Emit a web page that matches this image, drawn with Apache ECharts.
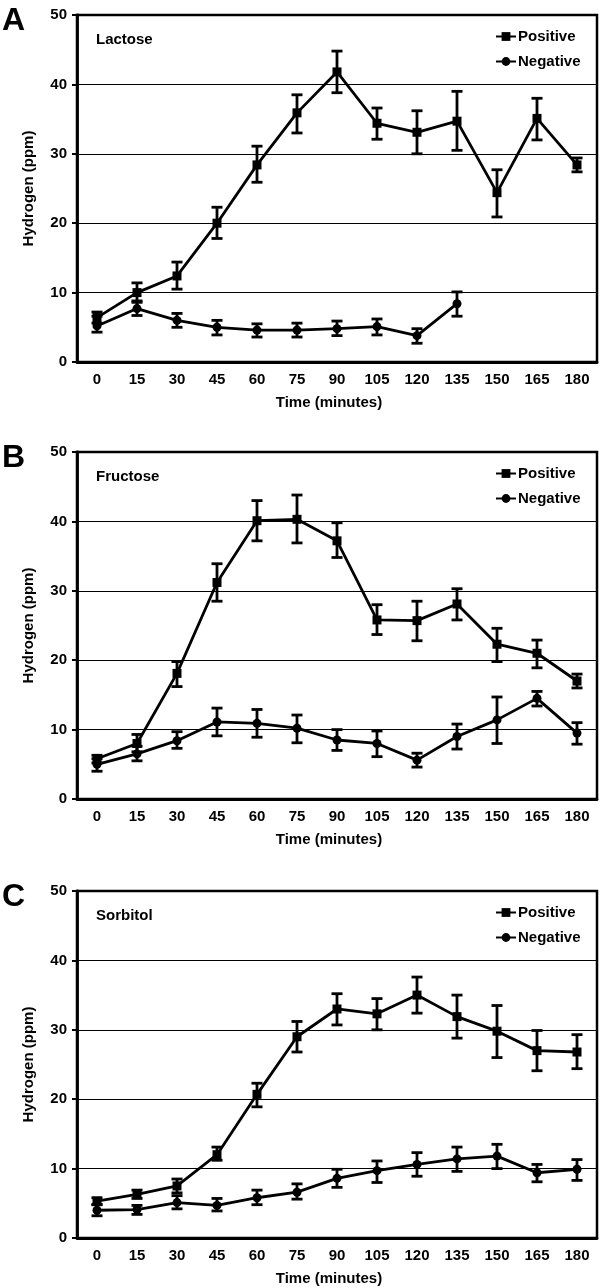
<!DOCTYPE html>
<html>
<head>
<meta charset="utf-8">
<script src="https://cdn.jsdelivr.net/npm/echarts@6/dist/echarts.min.js"></script>
<style>
html,body{margin:0;padding:0;background:#fff;}
#chart{width:600px;height:1288px;}
</style>
</head>
<body>
<div id="chart"></div>
<script>
// ---- data ----
const times = ['0','15','30','45','60','75','90','105','120','135','150','165','180'];
const yTicks = [0,10,20,30,40,50];
const panelLetters = ['A','B','C'];
const sugars = ['Lactose','Fructose','Sorbitol'];
const seriesNames = ['Positive','Negative'];

const lactosePos   = [6.4, 10.0, 12.4, 20.0, 28.4, 35.9, 41.8, 34.4, 33.1, 34.7, 24.4, 35.1, 28.4];
const lactosePosHi = [7.2, 11.4, 14.4, 22.3, 31.1, 38.5, 44.8, 36.6, 36.2, 39.0, 27.7, 38.0, 29.4];
const lactosePosLo = [5.6,  8.6, 10.5, 17.8, 25.9, 33.0, 38.8, 32.1, 30.0, 30.5, 20.9, 32.0, 27.4];
const lactoseNeg   = [5.2, 7.7, 6.0, 5.0, 4.6, 4.6, 4.8, 5.1, 3.8, 8.4, null, null, null];
const lactoseNegHi = [6.6, 8.8, 7.0, 6.0, 5.5, 5.6, 5.9, 6.2, 4.8, 10.1, null, null, null];
const lactoseNegLo = [4.3, 6.7, 5.0, 3.9, 3.6, 3.6, 3.8, 3.9, 2.7, 6.6, null, null, null];

const fructosePos   = [5.8, 8.0, 18.1, 31.2, 40.1, 40.3, 37.2, 25.8, 25.7, 28.1, 22.3, 21.0, 17.0];
const fructosePosHi = [6.3, 9.3, 19.8, 33.9, 43.0, 43.8, 39.8, 28.0, 28.5, 30.3, 24.6, 22.9, 18.0];
const fructosePosLo = [5.2, 6.8, 16.2, 28.5, 37.2, 36.9, 34.8, 23.7, 22.8, 25.8, 19.8, 18.9, 16.0];
const fructoseNeg   = [5.0, 6.5, 8.4, 11.1, 10.9, 10.2, 8.5, 8.0, 5.6, 9.0, 11.4, 14.5, 9.5];
const fructoseNegHi = [5.8, 7.6, 9.7, 13.1, 12.9, 12.1, 10.0, 9.8, 6.6, 10.8, 14.7, 15.5, 11.0];
const fructoseNegLo = [4.0, 5.5, 7.3, 9.1, 8.9, 8.1, 7.0, 6.1, 4.6, 7.2, 8.0, 13.4, 7.9];

const sorbitolPos   = [5.3, 6.3, 7.5, 12.0, 20.7, 29.0, 33.0, 32.3, 35.0, 31.9, 29.8, 27.0, 26.8];
const sorbitolPosHi = [5.8, 6.9, 8.5, 13.1, 22.3, 31.2, 35.2, 34.5, 37.6, 35.0, 33.5, 29.9, 29.3];
const sorbitolPosLo = [4.8, 5.7, 6.5, 11.2, 18.9, 26.8, 30.7, 30.0, 32.4, 28.8, 26.0, 24.1, 24.4];
const sorbitolNeg   = [4.0, 4.1, 5.1, 4.7, 5.8, 6.6, 8.6, 9.7, 10.6, 11.4, 11.8, 9.4, 9.9];
const sorbitolNegHi = [4.8, 4.7, 6.1, 5.7, 6.9, 7.8, 9.9, 11.1, 12.3, 13.1, 13.5, 10.6, 11.3];
const sorbitolNegLo = [3.2, 3.4, 4.2, 3.9, 4.8, 5.6, 7.3, 8.0, 8.9, 9.6, 10.0, 8.1, 8.3];

const panels = [
  {pos: lactosePos, posHi: lactosePosHi, posLo: lactosePosLo, neg: lactoseNeg, negHi: lactoseNegHi, negLo: lactoseNegLo},
  {pos: fructosePos, posHi: fructosePosHi, posLo: fructosePosLo, neg: fructoseNeg, negHi: fructoseNegHi, negLo: fructoseNegLo},
  {pos: sorbitolPos, posHi: sorbitolPosHi, posLo: sorbitolPosLo, neg: sorbitolNeg, negHi: sorbitolNegHi, negLo: sorbitolNegLo}
];

// ---- layout ----
const FONT = '"Liberation Sans", Arial, Helvetica, sans-serif';
const gridTops = [15, 452, 891];
const gridH = 347;
const gridLeft = 77, gridRight = 3;

function errData(lo, hi) {
  const out = [];
  for (let i = 0; i < lo.length; i++) {
    if (lo[i] == null || hi[i] == null) continue;
    out.push([i, lo[i], hi[i]]);
  }
  return out;
}

function renderErr(params, api) {
  const x = api.value(0);
  const p1 = api.coord([x, api.value(2)]);
  const p2 = api.coord([x, api.value(1)]);
  const w = 5.5;
  const st = {stroke: '#000', lineWidth: 2.8};
  return {
    type: 'group',
    children: [
      {type: 'line', shape: {x1: p1[0], y1: p1[1], x2: p2[0], y2: p2[1]}, style: st},
      {type: 'line', shape: {x1: p1[0] - w, y1: p1[1], x2: p1[0] + w, y2: p1[1]}, style: st},
      {type: 'line', shape: {x1: p2[0] - w, y1: p2[1], x2: p2[0] + w, y2: p2[1]}, style: st}
    ]
  };
}

const grid = [], xAxis = [], yAxis = [], series = [], legend = [], graphic = [];

panels.forEach((p, k) => {
  const top = gridTops[k];
  grid.push({left: gridLeft, right: gridRight, top: top, height: gridH, show: true,
    borderColor: '#000', borderWidth: 2.5, backgroundColor: 'transparent'});
  xAxis.push({
    type: 'category', gridIndex: k, data: times, boundaryGap: true,
    axisLine: {show: true, lineStyle: {color: '#000', width: 2.8}},
    axisTick: {show: false},
    axisLabel: {color: '#000', fontFamily: FONT, fontWeight: 'bold', fontSize: 15, margin: 10},
    name: 'Time (minutes)', nameLocation: 'middle', nameGap: 33,
    nameTextStyle: {color: '#000', fontFamily: FONT, fontWeight: 'bold', fontSize: 15, padding: [0, 16, 0, 0]},
    splitLine: {show: false}
  });
  yAxis.push({
    type: 'value', gridIndex: k, min: yTicks[0], max: yTicks[yTicks.length - 1], interval: 10,
    axisLine: {show: true, lineStyle: {color: '#000', width: 2.8}},
    axisTick: {show: true, length: 5, lineStyle: {color: '#000', width: 2}},
    axisLabel: {color: '#000', fontFamily: FONT, fontWeight: 'bold', fontSize: 15, margin: 10},
    splitLine: {show: true, lineStyle: {color: '#000', width: 1.2}},
    name: 'Hydrogen (ppm)', nameLocation: 'middle', nameGap: 41, nameRotate: 90,
    nameTextStyle: {color: '#000', fontFamily: FONT, fontWeight: 'bold', fontSize: 15}
  });
  series.push({
    name: seriesNames[1], type: 'line', xAxisIndex: k, yAxisIndex: k, data: p.neg,
    symbol: 'circle', symbolSize: 9, connectNulls: false,
    itemStyle: {color: '#000'}, lineStyle: {color: '#000', width: 2.8}, z: 3
  });
  series.push({
    name: seriesNames[0], type: 'line', xAxisIndex: k, yAxisIndex: k, data: p.pos,
    symbol: 'rect', symbolSize: 9,
    itemStyle: {color: '#000'}, lineStyle: {color: '#000', width: 2.8}, z: 4
  });
  series.push({
    type: 'custom', xAxisIndex: k, yAxisIndex: k, renderItem: renderErr,
    data: errData(p.negLo, p.negHi), encode: {x: 0, y: [1, 2]}, z: 3, silent: true
  });
  series.push({
    type: 'custom', xAxisIndex: k, yAxisIndex: k, renderItem: renderErr,
    data: errData(p.posLo, p.posHi), encode: {x: 0, y: [1, 2]}, z: 4, silent: true
  });
  legend.push({
    data: seriesNames, orient: 'vertical', left: 490, top: top + 9,
    itemWidth: 20, itemHeight: 11, itemGap: 10,
    textStyle: {color: '#000', fontFamily: FONT, fontWeight: 'bold', fontSize: 15, padding: [0, 0, 0, -3]},
    selectedMode: false
  });
  graphic.push({
    type: 'text', left: 2, top: top - 10,
    style: {text: panelLetters[k], fill: '#000', font: 'bold 32px ' + FONT}
  });
  graphic.push({
    type: 'text', left: 96, top: top + 17,
    style: {text: sugars[k], fill: '#000', font: 'bold 15px ' + FONT}
  });
});

const chart = echarts.init(document.getElementById('chart'), null, {renderer: 'canvas'});
chart.setOption({
  animation: false,
  backgroundColor: '#fff',
  grid, xAxis, yAxis, series, legend, graphic
});
</script>
</body>
</html>
